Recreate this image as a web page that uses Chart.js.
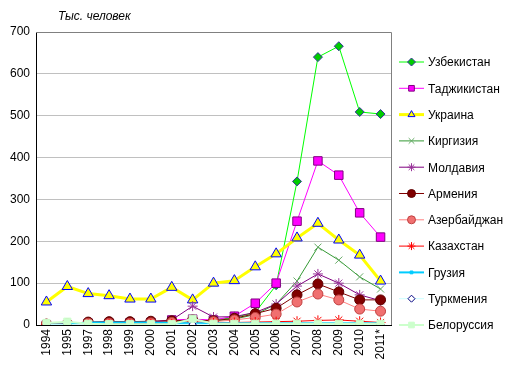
<!DOCTYPE html>
<html>
<head>
<meta charset="utf-8">
<script src="https://cdn.jsdelivr.net/npm/chart.js@4"></script>
<style>
  html, body { margin: 0; padding: 0; background: #fff; }
  #wrap { width: 516px; height: 376px; }
</style>
</head>
<body>
<div id="wrap"><canvas id="myChart" width="516" height="376"></canvas></div>
<script>
// Годы (1996 в таблице нет)
const years = ['1994', '1995', '1997', '1998', '1999', '2000', '2001', '2002', '2003',
               '2004', '2005', '2006', '2007', '2008', '2009', '2010', '2011*'];
const yTicks = [0, 100, 200, 300, 400, 500, 600, 700];

// Тыс. человек по странам
const uzbekistan   = [2, 3, 5, 5, 5, 6, 8, 10, 12, 18, 30, 95, 343, 640, 666, 509, 504];
const tajikistan   = [0, 0, 4, 4, 5, 6, 12, 14, 12, 21, 52, 100, 248, 392, 358, 268, 210];
const ukraine      = [55, 92, 75, 70, 62, 62, 90, 60, 100, 106, 139, 170, 208, 243, 203, 167, 105];
const kirgizia     = [2, 3, 4, 4, 4, 5, 6, 10, 10, 14, 25, 50, 105, 186, 155, 115, 86];
const moldavia     = [2, 3, 6, 8, 7, 8, 12, 45, 19, 20, 30, 50, 93, 122, 100, 72, 58];
const armenia      = [2, 3, 7, 8, 8, 9, 10, 12, 10, 16, 27, 40, 72, 98, 79, 60, 60];
const azerbaijan   = [2, 3, 4, 4, 4, 5, 6, 8, 8, 12, 18, 26, 55, 74, 60, 38, 33];
const kazakhstan   = [1, 2, 2, 2, 2, 3, 3, 5, 5, 6, 7, 8, 9, 11, 12, 9, 6];
const georgia      = [1, 2, 6, 6, 6, 6, 5, 4, 4, 4, 4, 4, 4, 4, 4, 4, 4];
const turkmenia    = [1, 1, 1, 1, 1, 1, 1, 2, 1, 1, 1, 1, 1, 1, 1, 1, 1];
const belorussia   = [5, 8, 3, 2, 2, 2, 2, 15, 3, 3, 3, 3, 3, 3, 3, 3, 3];

const seriesNames = ['Узбекистан', 'Таджикистан', 'Украина', 'Киргизия', 'Молдавия',
                     'Армения', 'Азербайджан', 'Казахстан', 'Грузия', 'Туркмения', 'Белоруссия'];
const seriesData = [uzbekistan, tajikistan, ukraine, kirgizia, moldavia,
                    armenia, azerbaijan, kazakhstan, georgia, turkmenia, belorussia];

// стиль: цвет линии, толщина, маркер, заливка, обводка, радиус
const styles = [
  { line: '#00ff00', w: 1, pt: 'rectRot', fill: '#00cc00', stroke: '#333399', r: 4.5 },
  { line: '#ff00ff', w: 1, pt: 'rect', fill: '#ff00ff', stroke: '#800080', r: 6 },
  { line: '#ffff00', w: 3, pt: 'triangle', fill: '#ffff00', stroke: '#0000ff', r: 6 },
  { line: '#339933', w: 1, pt: 'crossRot', fill: '#66bb66', stroke: '#66aa66', r: 5 },
  { line: '#800080', w: 1, pt: 'star', fill: '#993399', stroke: '#993399', r: 5 },
  { line: '#800000', w: 1, pt: 'circle', fill: '#800000', stroke: '#600000', r: 5 },
  { line: '#ff8080', w: 1, pt: 'circle', fill: '#f07070', stroke: '#c04040', r: 5 },
  { line: '#ff0000', w: 1, pt: 'star', fill: '#ff0000', stroke: '#ff0000', r: 5 },
  { line: '#00ccff', w: 2, pt: 'rect', fill: '#00ccff', stroke: '#00ccff', r: 2 },
  { line: '#ccffff', w: 1, pt: 'rectRot', fill: '#ffffff', stroke: '#000080', r: 3.5 },
  { line: '#ccffcc', w: 2, pt: 'rect', fill: '#ccffcc', stroke: '#ccffcc', r: 5 }
];

const datasets = seriesNames.map((name, i) => ({
  label: name,
  data: seriesData[i],
  borderColor: styles[i].line,
  borderWidth: styles[i].w,
  pointStyle: styles[i].pt,
  pointBackgroundColor: styles[i].fill,
  pointBorderColor: styles[i].stroke,
  pointBorderWidth: 1,
  pointRadius: styles[i].r,
  tension: 0,
  order: seriesNames.length - i // последние рисуются сверху
}));

// Легенда справа и подпись оси
const extras = {
  id: 'extras',
  afterDraw(chart) {
    const ctx = chart.ctx;
    const area = chart.chartArea;
    ctx.save();
    // рамка сверху и справа
    ctx.strokeStyle = '#808080';
    ctx.lineWidth = 1;
    ctx.beginPath();
    ctx.moveTo(area.left, area.top + 0.5);
    ctx.lineTo(area.right + 0.5, area.top + 0.5);
    ctx.lineTo(area.right + 0.5, area.bottom);
    ctx.stroke();

    ctx.fillStyle = '#000';
    ctx.font = 'italic 12px "Liberation Sans", Arial, sans-serif';
    ctx.textBaseline = 'middle';
    ctx.fillText('Тыс. человек', 58, 17);

    ctx.font = '12px "Liberation Sans", Arial, sans-serif';
    chart.data.datasets.forEach((ds, i) => {
      const y = 62 + i * 26.3;
      ctx.strokeStyle = ds.borderColor;
      ctx.lineWidth = ds.borderWidth;
      ctx.beginPath();
      ctx.moveTo(399, y);
      ctx.lineTo(424, y);
      ctx.stroke();
      ctx.fillStyle = ds.pointBackgroundColor;
      ctx.strokeStyle = ds.pointBorderColor;
      ctx.lineWidth = 1;
      Chart.helpers.drawPoint(ctx, {
        pointStyle: ds.pointStyle,
        radius: Math.min(ds.pointRadius, 4),
        borderWidth: 1,
        rotation: 0
      }, 411.5, y);
      ctx.fillStyle = '#000';
      ctx.fillText(ds.label, 428, y + 1);
    });
    ctx.restore();
  }
};

const ctx = document.getElementById('myChart').getContext('2d');
new Chart(ctx, {
  type: 'line',
  data: { labels: years, datasets: datasets },
  plugins: [extras],
  options: {
    responsive: false,
    animation: false,
    layout: { padding: { left: 0, right: 125, top: 32, bottom: 0 } },
    scales: {
      x: {
        offset: true,
        grid: { display: false, drawTicks: false },
        border: { color: '#000', width: 1 },
        ticks: {
          color: '#000',
          font: { family: '"Liberation Sans", Arial, sans-serif', size: 12 },
          minRotation: 90,
          maxRotation: 90,
          autoSkip: false,
          padding: 4
        },
        afterFit(scale) { scale.height = 51; }
      },
      y: {
        min: 0,
        max: 700,
        grid: { color: '#c0c0c0', drawTicks: false },
        border: { color: '#000', width: 1 },
        ticks: {
          stepSize: 100,
          color: '#000',
          font: { family: '"Liberation Sans", Arial, sans-serif', size: 12 },
          padding: 6
        },
        afterBuildTicks(scale) { scale.ticks = yTicks.map(v => ({ value: v })); },
        afterFit(scale) { scale.width = 36; }
      }
    },
    plugins: {
      legend: { display: false },
      tooltip: { enabled: false }
    }
  }
});
</script>
</body>
</html>
